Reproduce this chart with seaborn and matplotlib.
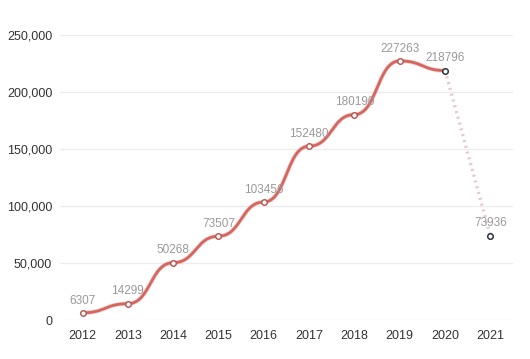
import numpy as np
import pandas as pd
import matplotlib
matplotlib.use("Agg")
import matplotlib.pyplot as plt
from matplotlib.ticker import FuncFormatter
import seaborn as sns

years = ["2012", "2013", "2014", "2015", "2016", "2017", "2018", "2019", "2020", "2021"]
values = [6307, 14299, 50268, 73507, 103456, 152480, 180190, 227263, 218796, 73936]
n_solid = 9  # 2012-2020 drawn as solid smooth line, 2020-2021 dotted


def smooth_curve(ax, xs, ys, smooth=0.5, steps=30):
    # echarts-like bezier smoothing (monotone in x: flat tangents at points)
    pts = ax.transData.transform(np.column_stack([xs, ys]))
    n = len(pts)
    cps = []
    for i in range(n):
        cur = pts[i]
        prev = pts[i - 1] if i > 0 else cur
        nxt = pts[i + 1] if i < n - 1 else cur
        vec = np.array([nxt[0] - prev[0], 0.0])
        d0 = abs(cur[0] - prev[0])
        d1 = abs(nxt[0] - cur[0])
        r = d1 / (d0 + d1) if d0 + d1 > 0 else 0.5
        cin = cur - vec * smooth * (1 - r)
        cout = cur + vec * smooth * r
        cps.append((cin, cout))
    out = [pts[0]]
    t = np.linspace(0, 1, steps)[1:, None]
    for i in range(n - 1):
        p0, p3 = pts[i], pts[i + 1]
        p1, p2 = cps[i][1], cps[i + 1][0]
        seg = ((1 - t) ** 3) * p0 + 3 * ((1 - t) ** 2) * t * p1 + 3 * (1 - t) * t ** 2 * p2 + t ** 3 * p3
        out.extend(seg)
    out = ax.transData.inverted().transform(np.array(out))
    return out[:, 0], out[:, 1]


sns.set_theme(style="white")
plt.rcParams["font.family"] = ["Liberation Sans", "DejaVu Sans"]

fig = plt.figure(figsize=(5.3, 3.59), dpi=100)
ax = fig.add_axes([0.113, 0.1086, 0.855, 0.7939])
ax.set_xlim(-0.5, len(years) - 0.5)
ax.set_ylim(0, 250000)

xpos = np.arange(len(years))
df = pd.DataFrame({"x": xpos, "year": years, "value": values})

sx, sy = smooth_curve(ax, xpos[:n_solid], np.array(values[:n_solid], float))
curve = pd.DataFrame({"x": sx, "y": sy})

for yv in range(0, 250001, 50000):
    ax.axhline(yv, color="#ececec", lw=0.9, zorder=0)

sns.lineplot(data=curve, x="x", y="y", ax=ax, color="#ecb8b5", lw=3.2,
             sort=False, estimator=None, zorder=2, alpha=0.6)
sns.lineplot(data=curve, x="x", y="y", ax=ax, color="#d4665f", lw=2.0,
             sort=False, estimator=None, zorder=3)
sns.lineplot(data=df.iloc[n_solid - 1:], x="x", y="value", ax=ax, color="#e6c8c8",
             lw=2.4, linestyle=(0, (0.6, 1.2)), sort=False, estimator=None, zorder=2)

sns.scatterplot(data=df.iloc[:n_solid - 1], x="x", y="value", ax=ax, s=16,
                color="white", edgecolor="#b8504b", linewidth=1.0, zorder=4)
sns.scatterplot(data=df.iloc[n_solid - 1:], x="x", y="value", ax=ax, s=16,
                color="white", edgecolor="#2c3440", linewidth=1.1, zorder=4)

for xi, v in zip(xpos, values):
    ax.annotate(str(v), (xi, v), xytext=(0, 4.5), textcoords="offset points",
                ha="center", va="bottom", fontsize=8.5, color="#9a9a9a", zorder=5)

ax.set_xticks(xpos)
ax.set_xticklabels(years)
ax.set_yticks(range(0, 250001, 50000))
ax.yaxis.set_major_formatter(FuncFormatter(lambda v, p: f"{int(v):,}"))
ax.tick_params(axis="both", length=0, labelsize=9, labelcolor="#333333")
ax.tick_params(axis="x", pad=7)
ax.tick_params(axis="y", pad=5.5)
ax.set_xlabel("")
ax.set_ylabel("")
sns.despine(ax=ax, left=True, bottom=True, top=True, right=True)

fig.savefig("out.png", dpi=100, facecolor="white")
